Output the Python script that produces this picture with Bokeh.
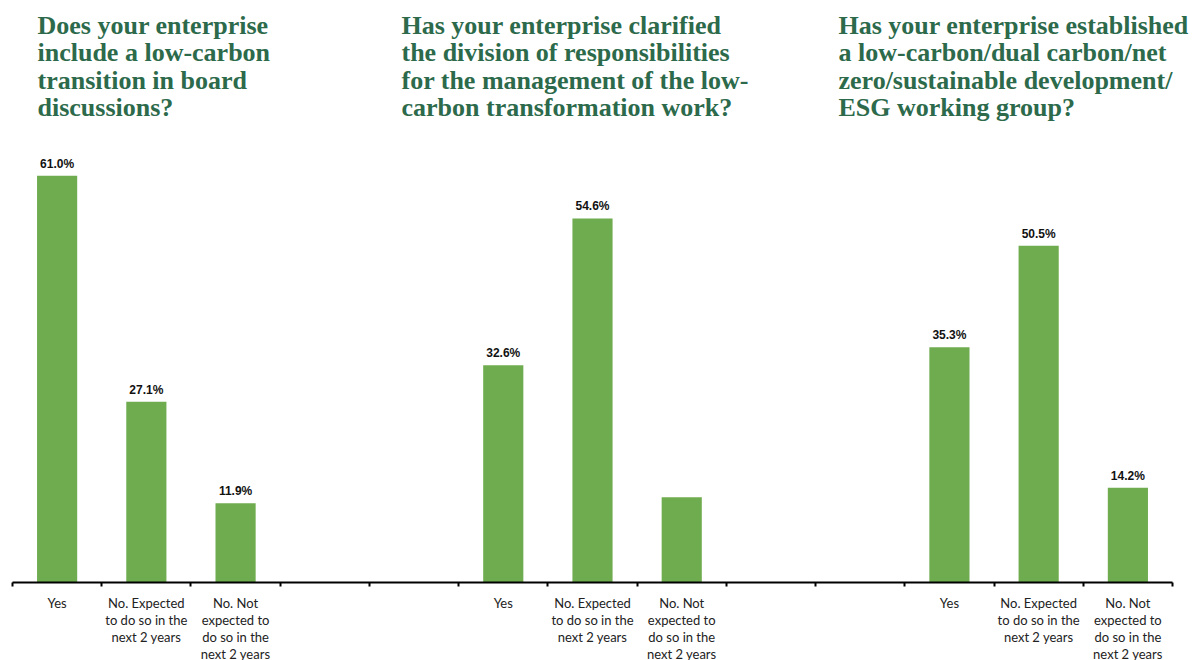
from bokeh.plotting import figure
from bokeh.models import Range1d, FixedTicker, ColumnDataSource
from bokeh.core.properties import value
from bokeh.embed import file_html
from bokeh.resources import INLINE

# Survey questions, one per group of bars
questions = [
    "Does your enterprise\ninclude a low-carbon\ntransition in board\ndiscussions?",
    "Has your enterprise clarified\nthe division of responsibilities\nfor the management of the low-\ncarbon transformation work?",
    "Has your enterprise established\na low-carbon/dual carbon/net\nzero/sustainable development/\nESG working group?",
]

# Answer categories (same for every question)
categories = [
    "Yes",
    "No. Expected\nto do so in the\nnext 2 years",
    "No. Not\nexpected to\ndo so in the\nnext 2 years",
]

# Share of respondents (%) per answer
board_discussion = [61.0, 27.1, 11.9]
responsibilities = [32.6, 54.6, 12.8]
working_group = [35.3, 50.5, 14.2]

# Which bars carry a value label
labelled = [
    [True, True, True],
    [True, True, False],
    [True, True, True],
]

series = [board_discussion, responsibilities, working_group]

# ---- layout -------------------------------------------------------------
W, H = 1194, 660
n_slots = 13                 # category slots along the shared baseline
group_start = [0, 5, 10]     # first slot of each question's group
left_px, right_px = 12, 1172 # baseline extent in pixels
base_px = 582                # baseline height in pixels from the top
px_per_pct = 6.667

slot_px = (right_px - left_px) / n_slots
x0 = -left_px / slot_px
x1 = n_slots + (W - right_px) / slot_px
y0 = -(H - base_px) / px_per_pct
y1 = base_px / px_per_pct

title_x_px = [37, 401, 838]
title_top_px = 10

GREEN_BAR = "#6FAC4F"
GREEN_TITLE = "#2C6A4B"

p = figure(
    width=W, height=H,
    x_range=Range1d(x0, x1), y_range=Range1d(y0, y1),
    output_backend="svg", toolbar_location=None,
    min_border=0, outline_line_color=None,
)
p.grid.visible = False
p.yaxis.visible = False

ax = p.xaxis[0]
ax.fixed_location = 0
ax.bounds = (0, n_slots)
ax.ticker = FixedTicker(ticks=list(range(n_slots + 1)))
ax.major_label_overrides = {i: "" for i in range(n_slots + 1)}
ax.major_label_standoff = 0
ax.axis_line_color = "black"
ax.axis_line_width = 2
ax.major_tick_line_color = "black"
ax.major_tick_line_width = 2
ax.major_tick_out = 4
ax.major_tick_in = 0
ax.minor_tick_line_color = None

xs, tops, cats = [], [], []
lab_x, lab_y, lab_t = [], [], []
for g, vals_g in enumerate(series):
    for i, v in enumerate(vals_g):
        x = group_start[g] + i + 0.5
        xs.append(x)
        tops.append(v)
        cats.append(categories[i])
        if labelled[g][i]:
            lab_x.append(x)
            lab_y.append(v)
            lab_t.append(f"{v:.1f}%")

bars = ColumnDataSource(dict(x=xs, top=tops, cat=cats))
p.vbar(x="x", top="top", bottom=0, width=0.45, source=bars,
       fill_color=GREEN_BAR, line_color=None)

p.text(x=lab_x, y=lab_y, text=lab_t, text_align="center",
       text_baseline="alphabetic", y_offset=-12,
       text_font=value("Liberation Sans"), text_font_style="bold",
       text_font_size="12px", text_color="#111111")

p.text(x="x", y=0, text="cat", source=bars, text_align="center",
       text_baseline="top", y_offset=12, text_line_height=1.07,
       text_font=value("Lato"), text_font_size="13px", text_color="#222222")

tx = [(px - left_px) / slot_px for px in title_x_px]
ty = [(base_px - title_top_px) / px_per_pct] * 3
p.text(x=tx, y=ty, text=questions, text_align="left", text_baseline="top",
       text_line_height=0.95, text_font=value("Liberation Serif"),
       text_font_style="bold", text_font_size="26px", text_color=GREEN_TITLE)

open("out.html", "w").write(file_html(p, INLINE))
